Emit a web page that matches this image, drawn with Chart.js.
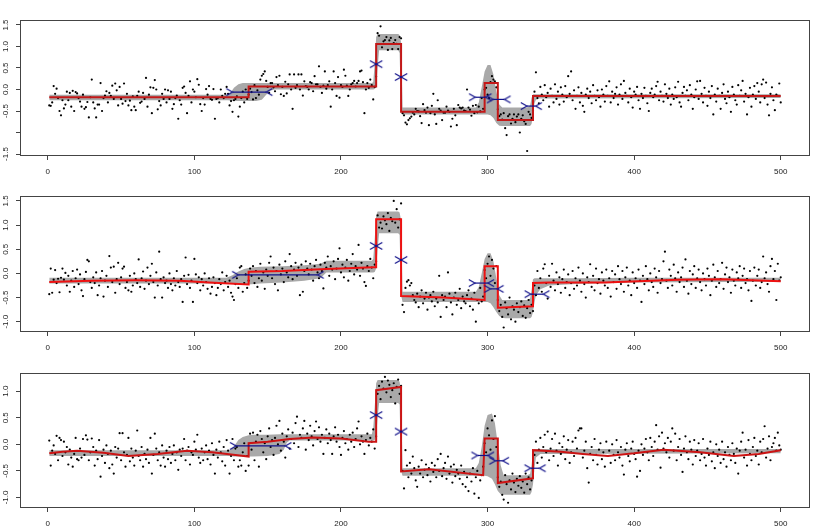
<!DOCTYPE html>
<html><head><meta charset="utf-8">
<script src="https://cdn.jsdelivr.net/npm/chart.js@4"></script>
<style>
html,body{margin:0;padding:0;background:#fff;}
body{width:830px;height:529px;overflow:hidden;position:relative;}
canvas{position:absolute;left:0;}
</style>
</head><body>
<canvas id="c1" width="830" height="185" style="top:0px"></canvas>
<canvas id="c2" width="830" height="175" style="top:185px"></canvas>
<canvas id="c3" width="830" height="169" style="top:360px"></canvas>
<script>
// ---------- axes ----------
const X_TICKS = [0, 100, 200, 300, 400, 500];
const X_LABELS = ['0', '100', '200', '300', '400', '500'];
const X_MIN = -18.96, X_MAX = 519.96;

const P1_Y_TICKS = [-1.5, -1, -0.5, 0, 0.5, 1, 1.5];
const P1_Y_LABELS = ['-1.5', '', '-0.5', '0.0', '0.5', '1.0', '1.5'];
const P2_Y_TICKS = [-1, -0.5, 0, 0.5, 1, 1.5];
const P2_Y_LABELS = ['-1.0', '-0.5', '0.0', '0.5', '1.0', '1.5'];
const P3_Y_TICKS = [-1, -0.5, 0, 0.5, 1];
const P3_Y_LABELS = ['-1.0', '-0.5', '0.0', '0.5', '1.0'];

// observation index where each dot segment starts
const SEG_STARTS = [1, 138, 225, 242, 298, 307, 332];

// ---------- panel 1 observations ----------
const P1_DOTS_A = [-0.37,-0.38,-0.30,0.08,-0.10,0.02,-0.20,-0.50,-0.60,-0.25,
-0.44,-0.35,-0.05,-0.25,-0.08,-0.40,-0.03,-0.50,-0.06,-0.09,
-0.20,-0.28,-0.40,-0.12,-0.45,-0.41,-0.29,-0.65,-0.18,0.23,
-0.30,-0.44,-0.65,-0.35,-0.35,0.15,-0.50,-0.20,-0.14,-0.04,
-0.30,-0.08,-0.15,0.09,-0.22,0.14,-0.02,-0.37,0.06,-0.22,
-0.33,0.14,-0.27,-0.10,-0.37,-0.26,-0.48,-0.16,-0.40,-0.48,
-0.15,-0.05,-0.31,-0.28,-0.08,-0.22,0.27,-0.40,-0.12,0.05,
-0.55,0.04,0.22,0.00,-0.46,-0.27,-0.37,-0.10,-0.22,0.00,
-0.30,-0.02,-0.22,-0.05,-0.45,-0.34,-0.20,-0.14,-0.68,-0.25,
-0.35,0.04,0.07,-0.08,-0.55,-0.15,0.19,-0.30,0.00,-0.05,
-0.18,0.24,0.11,-0.34,-0.50,-0.20,-0.35,0.01,-0.12,0.08,
-0.22,-0.24,0.01,-0.68,-0.22,-0.20,-0.30,0.00,-0.15,-0.20,
-0.10,0.06,-0.10,-0.37,-0.27,-0.52,-0.25,-0.22,-0.16,-0.63,
-0.40,-0.20,-0.05,-0.30,0.00,-0.22,-0.12];
const P1_DOTS_B = [0.02,-0.06,-0.23,0.10,-0.20,-0.02,-0.12,0.23,0.32,0.36,
0.42,0.20,0.06,-0.08,0.15,0.15,0.05,-0.04,0.29,0.10,
0.32,-0.11,0.06,-0.15,0.18,-0.09,0.12,0.35,0.00,-0.45,
0.35,0.04,0.10,0.35,0.00,0.35,-0.14,0.19,0.08,0.06,
0.00,0.17,0.15,-0.04,0.31,0.12,0.12,0.54,0.06,-0.08,
0.09,0.42,0.02,0.10,0.19,-0.40,0.00,0.42,0.15,-0.15,
0.29,-0.19,0.10,0.06,0.46,0.32,0.09,-0.15,0.00,0.12,
0.15,0.20,0.07,0.15,0.20,0.42,0.44,0.17,-0.55,0.00,
0.15,0.04,0.23,0.10,-0.23,0.06,0.30];
const P1_DOTS_C = [1.31,1.25,1.47,0.98,1.12,1.15,1.22,0.92,1.14,1.20,0.94,1.08,1.15,1.06,0.94,1.22,1.19];
const P1_DOTS_D = [-0.55,-0.60,-0.77,-0.81,-0.71,-0.67,-0.63,-0.54,-0.58,-0.45,
-0.50,-0.51,-0.62,-0.78,-0.34,-0.48,-0.54,-0.42,-0.83,-0.55,
-0.38,-0.10,-0.58,-0.80,-0.25,-0.45,-0.49,-0.71,-0.54,-0.54,
-0.40,-0.49,-0.52,-0.86,-0.68,-0.45,-0.60,-0.83,-0.36,-0.42,
-0.44,-0.42,-0.49,-0.50,0.00,-0.42,-0.47,-0.61,-0.38,-0.55,
-0.36,-0.53,-0.40,-0.51,-0.20,-0.45];
const P1_DOTS_E = [0.00,0.04,-0.12,-0.20,0.17,0.31,0.23,0.19,0.05];
const P1_DOTS_F = [-0.46,-0.62,-0.58,-0.70,-0.55,-0.90,-1.06,-0.62,-0.58,-0.79,
-0.68,-0.58,-0.76,-0.63,-0.58,-1.00,-0.68,-0.60,-0.74,-0.80,
-1.43,-0.52,-0.58,-0.66,-0.48];
const P1_DOTS_G = [-0.05,0.40,-0.20,-0.32,0.06,-0.12,-0.25,0.10,-0.18,-0.08,
-0.40,0.02,-0.15,-0.30,0.12,-0.22,-0.05,-0.35,0.05,-0.12,
-0.28,0.08,-0.18,0.31,-0.10,0.42,-0.25,-0.02,-0.45,-0.15,
0.05,-0.30,-0.08,-0.38,-0.52,-0.12,0.02,-0.20,-0.05,-0.32,
0.10,-0.15,-0.25,-0.02,-0.18,-0.40,0.00,-0.12,-0.28,0.08,
-0.15,0.19,-0.30,-0.05,-0.20,-0.10,0.05,-0.35,-0.12,0.12,
-0.22,0.20,-0.08,-0.15,-0.30,0.02,-0.18,-0.42,-0.05,-0.12,
0.06,-0.25,-0.45,-0.10,-0.20,0.04,-0.15,-0.32,-0.50,-0.08,
0.02,-0.18,-0.12,0.08,0.18,-0.25,-0.05,-0.15,-0.28,0.12,
-0.10,-0.20,0.02,-0.35,-0.12,-0.22,0.05,-0.18,0.18,-0.30,
-0.40,-0.08,0.06,-0.15,-0.02,-0.25,0.10,-0.12,-0.45,-0.18,
0.00,0.19,-0.22,0.20,-0.10,-0.30,0.04,-0.15,-0.38,-0.05,
-0.20,0.08,-0.58,-0.12,-0.28,0.02,-0.15,-0.45,-0.08,0.12,
-0.22,-0.32,-0.05,-0.18,-0.52,0.06,-0.12,-0.25,-0.35,0.10,
-0.15,-0.02,0.20,-0.28,-0.10,-0.58,-0.18,0.04,-0.40,-0.12,
0.08,-0.22,0.15,-0.05,-0.30,0.12,0.23,-0.20,0.16,-0.35,
-0.60,-0.10,0.05,-0.25,-0.48,-0.12,-0.15,0.14,-0.30];

// ---------- panel 2 observations ----------
const P2_DOTS_A = [-0.43,0.10,-0.40,-0.13,0.07,-0.20,-0.11,-0.39,-0.09,0.10,
-0.13,0.01,-0.25,-0.05,-0.38,-0.15,0.05,-0.28,-0.10,0.08,
-0.22,-0.02,-0.35,-0.47,-0.12,0.03,0.28,0.25,-0.18,-0.30,
-0.08,-0.20,0.02,-0.45,-0.25,-0.10,0.05,-0.48,-0.15,-0.05,
-0.28,0.36,0.12,-0.18,0.14,-0.40,-0.12,0.22,-0.22,-0.08,
0.10,0.14,-0.30,-0.18,-0.35,-0.05,-0.38,-0.25,0.00,-0.12,
-0.20,0.29,-0.28,-0.10,0.04,-0.32,-0.15,0.12,-0.22,-0.05,
0.20,-0.18,-0.50,0.02,-0.25,0.45,-0.12,-0.50,-0.08,-0.20,
-0.15,-0.30,0.00,-0.22,-0.35,-0.10,-0.25,0.05,-0.18,-0.28,
-0.12,-0.59,-0.05,0.33,-0.22,-0.03,-0.30,-0.15,-0.59,0.30,
-0.02,-0.20,-0.08,-0.35,-0.12,-0.25,0.00,-0.18,-0.32,-0.10,
-0.42,-0.28,-0.08,-0.20,-0.45,-0.30,-0.12,-0.22,0.02,-0.35,
-0.18,-0.05,-0.28,-0.15,-0.40,-0.48,-0.55,-0.22,-0.10,-0.30,
0.12,0.15,-0.38,-0.20,-0.02,-0.30,-0.15];
const P2_DOTS_B = [0.10,-0.05,0.15,-0.20,0.05,-0.28,-0.10,0.20,-0.15,0.02,
-0.32,0.08,-0.05,0.22,0.35,-0.10,0.12,-0.22,0.05,-0.35,
0.18,-0.02,0.10,-0.18,0.25,0.02,-0.08,0.40,0.15,-0.12,
0.08,0.22,-0.05,0.12,-0.45,0.18,-0.38,0.05,0.25,0.10,
-0.02,0.20,0.08,-0.15,0.15,0.28,0.02,-0.10,0.18,0.05,
-0.31,0.22,0.12,0.35,-0.05,0.15,0.08,0.25,-0.12,0.10,
0.30,0.52,0.02,0.18,-0.08,0.12,0.28,-0.15,0.05,0.20,
0.40,-0.02,0.15,0.08,0.59,-0.05,0.22,0.10,-0.18,-0.26,
0.15,0.05,0.30,0.12,-0.10,0.18,0.25];
const P2_DOTS_C = [1.20,0.95,1.05,0.93,1.18,1.10,1.02,1.25,0.88,1.15,1.08,1.50,1.05,1.33,0.95,1.12,1.45];
const P2_DOTS_D = [-0.65,-0.80,-0.30,-0.17,-0.14,-0.25,-0.20,-0.45,-0.55,-0.60,
-0.42,-0.70,-0.48,-0.35,-0.62,-0.52,-0.40,-0.75,-0.50,-0.45,
-0.58,-0.38,-0.68,-0.52,-0.60,-0.05,-0.90,-0.45,-0.55,-0.48,
-0.70,0.02,-0.42,-0.60,-0.85,-0.50,-0.40,-0.65,-0.55,-0.32,
-0.72,-0.48,-0.58,-0.62,-0.45,-0.35,-0.68,-0.52,-0.75,-0.40,
-1.00,-0.55,-0.62,-0.30,-0.58,-0.48];
const P2_DOTS_E = [0.07,-0.10,0.20,0.35,-0.05,0.28,0.10,-0.20,0.15];
const P2_DOTS_F = [-0.55,-0.78,-0.65,-0.90,-1.12,-0.60,-0.72,-0.85,-0.50,-0.95,
-0.68,-0.75,-1.00,-0.62,-0.80,-0.70,-0.58,-0.88,-0.66,-0.92,
-0.72,-0.55,-0.82,-0.65,-0.78];
const P2_DOTS_G = [-0.25,-0.45,0.05,-0.30,-0.10,-0.38,0.10,0.19,-0.20,-0.52,
-0.05,-0.28,0.20,-0.15,-0.35,0.02,-0.22,-0.08,-0.40,
-0.12,0.08,-0.30,-0.18,-0.02,-0.45,-0.20,0.05,-0.32,-0.10,
-0.25,0.12,-0.15,-0.38,0.00,-0.22,-0.50,-0.08,-0.18,0.19,
-0.28,-0.05,-0.35,0.10,-0.20,-0.12,-0.42,0.02,-0.15,-0.25,
0.08,-0.30,-0.10,-0.48,0.05,-0.18,-0.02,-0.32,0.15,-0.12,
-0.22,0.05,-0.38,-0.08,0.12,-0.25,-0.15,-0.45,0.02,-0.20,
-0.10,-0.30,0.08,-0.15,-0.59,-0.05,-0.22,0.15,-0.12,-0.35,
0.00,-0.18,-0.28,0.10,-0.08,-0.40,0.05,-0.20,-0.12,0.25,
0.45,-0.15,-0.30,0.08,-0.05,-0.25,0.18,-0.10,-0.38,0.02,
-0.18,-0.08,0.12,-0.28,0.29,-0.15,-0.42,0.05,-0.22,-0.02,
0.15,-0.30,-0.10,0.08,-0.18,-0.35,0.00,-0.12,-0.25,0.10,
-0.05,-0.45,-0.15,0.18,-0.08,-0.28,0.05,-0.20,-0.12,0.22,
-0.32,-0.02,0.12,-0.18,-0.08,-0.40,0.08,-0.15,-0.25,0.02,
-0.10,0.15,-0.30,-0.05,0.10,-0.20,-0.12,-0.35,0.05,-0.57,
-0.15,0.12,-0.25,-0.05,0.08,-0.30,-0.18,0.35,-0.10,0.02,
-0.22,-0.38,0.15,0.30,-0.12,0.05,-0.55,0.20,-0.15,-0.08];

// ---------- panel 3 observations ----------
const P3_DOTS_A = [0.07,-0.40,-0.12,-0.02,-0.18,0.16,-0.30,0.12,0.08,-0.22,
0.05,-0.15,-0.05,-0.38,-0.10,-0.25,-0.42,-0.18,0.12,-0.28,
-0.30,-0.08,-0.25,0.10,-0.20,0.17,0.09,-0.30,-0.15,0.11,
-0.05,-0.40,-0.12,-0.28,0.08,-0.61,-0.22,-0.10,-0.35,-0.02,
-0.18,-0.45,-0.12,-0.38,-0.55,-0.05,-0.25,-0.08,0.21,-0.30,
0.21,-0.15,-0.42,-0.20,0.12,-0.32,-0.08,-0.25,-0.40,-0.12,
0.26,-0.22,-0.30,-0.05,-0.42,-0.18,-0.28,-0.10,-0.35,0.12,
-0.55,-0.20,0.20,-0.08,-0.30,-0.15,-0.40,-0.02,-0.25,-0.42,
-0.12,-0.28,-0.05,-0.35,-0.18,-0.02,-0.30,-0.15,-0.48,-0.10,
-0.22,-0.08,0.10,-0.30,-0.12,-0.05,-0.38,-0.15,-0.20,0.05,
-0.10,0.18,-0.25,-0.35,-0.08,-0.30,-0.15,-0.02,-0.28,-0.12,
-0.38,0.02,-0.20,-0.55,-0.10,-0.25,0.05,-0.15,-0.32,-0.05,
-0.40,0.08,-0.12,-0.55,-0.22,0.10,-0.30,-0.08,-0.05,-0.42,
-0.30,-0.40,-0.15,0.02,-0.50,-0.22,-0.40];
const P3_DOTS_B = [0.20,-0.10,0.22,-0.30,0.05,0.18,-0.42,0.25,0.10,-0.15,
0.02,-0.28,0.15,0.30,-0.05,0.08,-0.20,0.12,0.35,0.00,
0.44,-0.12,0.20,0.05,-0.25,0.15,0.28,-0.08,0.10,0.22,
0.02,0.40,0.52,-0.05,0.18,0.12,0.30,0.44,-0.10,0.20,
0.08,0.35,0.15,-0.02,0.25,0.43,0.10,0.32,0.05,0.18,
-0.18,0.12,0.28,0.02,0.20,0.08,-0.18,0.15,0.32,0.05,
0.18,-0.05,-0.20,0.12,0.25,0.02,0.10,-0.10,0.18,0.05,
0.22,-0.05,0.10,0.30,0.43,0.00,0.15,0.05,-0.18,0.08,
0.20,-0.02,0.12,0.05,0.28,-0.08,0.15];
const P3_DOTS_C = [0.95,1.10,0.85,1.18,1.05,1.27,0.98,1.20,1.12,0.89,1.02,1.15,0.77,1.08,1.22,0.95,1.10];
const P3_DOTS_D = [-0.50,-0.83,-0.11,-0.40,-0.62,-0.35,-0.55,-0.23,-0.45,-0.68,
-0.80,-0.42,-0.55,-0.30,-0.62,-0.48,-0.38,-0.58,-0.45,-0.70,
-0.35,-0.52,-0.40,-0.62,-0.28,-0.50,-0.18,-0.60,-0.45,-0.35,
-0.65,-0.23,-0.55,-0.42,-0.72,-0.38,-0.60,-0.48,-0.55,-0.65,
-0.40,-0.75,-0.52,-0.80,-0.62,-0.88,-0.55,-0.70,-0.45,-0.93,
-0.62,-0.50,-1.01,-0.68,-0.58,-0.42];
const P3_DOTS_E = [0.02,-0.15,0.30,0.17,-0.10,0.45,0.10,0.53,-0.05];
const P3_DOTS_F = [-0.62,-0.80,-0.70,-0.95,-1.04,-0.58,-0.75,-1.10,-0.68,-0.85,
-0.55,-0.72,-0.90,-0.65,-0.78,-0.60,-0.82,-0.70,-0.91,-0.55,
-0.75,-0.62,-0.85,-0.68,-0.50];
const P3_DOTS_G = [-0.20,0.05,-0.35,-0.10,0.12,-0.25,-0.05,0.18,-0.15,0.24,
-0.30,-0.08,0.10,-0.22,0.20,-0.12,-0.40,0.02,-0.18,
-0.05,0.15,-0.28,-0.10,0.08,-0.35,-0.15,0.05,-0.22,0.12,
-0.08,0.26,0.30,0.30,-0.25,-0.12,0.05,-0.45,-0.72,-0.18,
-0.05,-0.30,0.10,-0.20,-0.38,-0.10,0.02,-0.28,-0.15,-0.42,
0.05,-0.22,-0.12,-0.35,0.00,-0.20,-0.30,0.08,-0.15,-0.25,
-0.05,-0.40,-0.57,-0.10,0.02,-0.22,-0.32,-0.08,0.05,-0.18,
-0.28,-0.61,-0.12,-0.50,0.00,-0.20,-0.08,0.10,-0.15,-0.30,
0.12,-0.05,-0.22,0.05,0.36,-0.10,0.15,-0.44,0.22,-0.08,
0.02,-0.15,0.12,-0.25,0.05,0.30,-0.12,0.20,-0.30,-0.05,
0.10,-0.20,-0.52,-0.08,0.15,-0.15,-0.28,0.05,-0.10,-0.38,
0.08,-0.22,-0.12,0.02,-0.30,-0.18,0.10,-0.25,-0.40,-0.08,
-0.20,0.05,-0.32,-0.15,-0.45,0.00,-0.22,-0.10,-0.35,0.05,
-0.28,-0.15,-0.42,-0.05,-0.20,-0.30,0.02,-0.18,-0.35,-0.08,
-0.55,-0.12,0.05,0.22,-0.25,-0.10,-0.40,0.08,-0.18,-0.30,
-0.05,0.12,-0.22,-0.12,-0.38,0.05,-0.15,0.10,0.34,-0.25,
-0.08,0.15,-0.30,-0.05,0.02,0.12,-0.12,0.22,-0.02,-0.10];

// ---------- fitted means (red) ----------
const P1_FIT_X = [1,137,137,224,224,241,241,298,298,307,307,331,331,500];
const P1_FIT_Y = [-0.18,-0.18,0.07,0.07,1.06,1.06,-0.52,-0.52,0.15,0.15,-0.71,-0.71,-0.15,-0.15];
const P2_FIT_X = [1,30,60,90,110,137,137,160,190,222,224,224,241,241,270,298,298,307,307,331,331,342,380,430,460,500];
const P2_FIT_Y = [-0.18,-0.15,-0.14,-0.15,-0.19,-0.23,0.035,0.05,0.09,0.13,0.13,1.12,1.12,-0.47,-0.5,-0.55,0.15,0.15,-0.71,-0.68,-0.2,-0.19,-0.19,-0.13,-0.12,-0.16];
const P3_FIT_X = [1,10,20,38,55,75,95,112,128,137,137,150,165,181,200,219,224,224,241,241,260,297,298,307,307,331,331,350,365,382,400,420,445,468,485,500];
const P3_FIT_Y = [-0.17,-0.14,-0.12,-0.16,-0.22,-0.18,-0.12,-0.15,-0.2,-0.23,0.02,0.05,0.1,0.13,0.11,0.05,0.05,1.02,1.08,-0.51,-0.47,-0.58,0.11,0.11,-0.73,-0.64,-0.11,-0.14,-0.18,-0.22,-0.17,-0.1,-0.15,-0.22,-0.18,-0.11];

// ---------- confidence bands (gray) ----------
const P1_BAND_X = [1,123,125,127,130,133,137,142,146,149,152,155,160,221,222,223,224,225,226,239,240,241,242,292,294,296,298,300,302,304,306,308,310,312,327,329,330,331,332,333,335,500];
const P1_BAND_HI = [-0.12,-0.12,-0.06,0.04,0.12,0.15,0.15,0.15,0.15,0.15,0.15,0.15,0.15,0.15,0.17,0.6,1.22,1.29,1.29,1.29,1.27,1.1,-0.42,-0.42,-0.3,0.05,0.42,0.57,0.57,0.35,-0.05,-0.35,-0.42,-0.42,-0.42,-0.38,-0.2,-0.11,-0.11,-0.11,-0.11,-0.11];
const P1_BAND_LO = [-0.25,-0.25,-0.26,-0.27,-0.27,-0.27,-0.27,-0.27,-0.24,-0.12,-0.02,0.0,0.0,0.0,0.0,0.01,0.05,0.5,0.91,0.91,0.85,-0.5,-0.58,-0.58,-0.58,-0.58,-0.58,-0.58,-0.6,-0.66,-0.78,-0.84,-0.85,-0.85,-0.85,-0.85,-0.8,-0.6,-0.32,-0.24,-0.21,-0.2];
const P2_BAND_X = [1,122,126,130,134,137,141,145,160,175,186,190,221,222,223,224,225,226,239,240,241,242,292,294,296,298,300,302,304,306,308,310,312,327,329,330,331,332,333,336,342,360,400,500];
const P2_BAND_HI = [-0.09,-0.09,-0.04,0.04,0.09,0.11,0.13,0.14,0.15,0.17,0.2,0.26,0.26,0.3,0.7,1.2,1.28,1.28,1.28,1.26,1.1,-0.38,-0.38,-0.28,0.0,0.3,0.42,0.42,0.25,-0.1,-0.45,-0.55,-0.55,-0.55,-0.52,-0.35,-0.12,-0.1,-0.1,-0.1,-0.1,-0.1,-0.09,-0.09];
const P2_BAND_LO = [-0.21,-0.21,-0.22,-0.23,-0.23,-0.23,-0.22,-0.21,-0.19,-0.15,-0.1,0.02,0.02,0.02,0.03,0.1,0.5,0.83,0.83,0.8,-0.45,-0.59,-0.59,-0.59,-0.59,-0.59,-0.59,-0.62,-0.7,-0.8,-0.88,-0.92,-0.93,-0.93,-0.93,-0.9,-0.8,-0.6,-0.45,-0.33,-0.25,-0.22,-0.19,-0.17];
const P3_BAND_X = [1,124,127,130,133,137,140,150,158,161,163,165,221,222,223,224,225,226,239,240,241,242,292,294,296,298,300,303,305,307,309,311,327,329,330,331,332,333,336,500];
const P3_BAND_HI = [-0.11,-0.11,-0.04,0.08,0.14,0.17,0.18,0.18,0.19,0.19,0.19,0.19,0.19,0.3,0.7,1.15,1.21,1.21,1.21,1.18,1.0,-0.45,-0.45,-0.35,-0.05,0.35,0.55,0.58,0.4,0.0,-0.4,-0.58,-0.58,-0.56,-0.4,-0.12,-0.09,-0.09,-0.09,-0.09];
const P3_BAND_LO = [-0.22,-0.22,-0.23,-0.23,-0.23,-0.23,-0.23,-0.22,-0.18,-0.1,0.03,0.07,0.07,0.07,0.08,0.15,0.5,0.78,0.78,0.75,-0.5,-0.59,-0.59,-0.59,-0.59,-0.59,-0.6,-0.65,-0.75,-0.88,-0.94,-0.95,-0.95,-0.95,-0.9,-0.75,-0.45,-0.25,-0.18,-0.17];

// ---------- change-point intervals (blue): [low, high, level] ----------
const P1_CP = [[126,149,-0.06],[224,224,0.59],[241,241,0.29],[291.6,298.5,-0.18],[303.8,311.5,-0.23],[326.9,332.8,-0.385]];
const P2_CP = [[130,184,-0.03],[224,224,0.57],[241,241,0.28],[291.4,300.2,-0.2],[302,306.7,-0.32],[329.5,338,-0.43]];
const P3_CP = [[128.5,162,-0.03],[224,224,0.55],[241,241,0.24],[293.2,300.2,-0.21],[305.4,310.4,-0.31],[329.4,335.4,-0.45]];

// ---------- styling ----------
const FONT = "'Liberation Sans', Arial, Helvetica, sans-serif";
const TXT = '#222';
const AX = '#444';
const BAND = '#a9a9a9';
const BLUE = '#10108a';

function head(dir) {
  const c = document.createElement('canvas');
  c.width = 16; c.height = 10;
  const g = c.getContext('2d');
  g.strokeStyle = BLUE; g.lineWidth = 1.2;
  g.beginPath();
  g.moveTo(8 - dir * 6.2, 5 - 3.6);
  g.lineTo(8, 5);
  g.lineTo(8 - dir * 6.2, 5 + 3.6);
  g.stroke();
  return c;
}
const HEAD_L = head(1);   // '>' at the low end
const HEAD_R = head(-1);  // '<' at the high end

const boxPlugin = {
  id: 'rbox',
  afterDraw(chart) {
    const a = chart.chartArea, g = chart.ctx;
    g.save();
    g.strokeStyle = AX; g.lineWidth = 1;
    g.strokeRect(Math.round(a.left) + 0.5, Math.round(a.top) + 0.5,
                 Math.round(a.right - a.left) - 1, Math.round(a.bottom - a.top) - 1);
    g.restore();
  }
};

function pts(xs, ys) { return xs.map((x, i) => ({ x: x, y: ys[i] })); }
function dots(segs) {
  const out = [];
  segs.forEach((s, k) => s.forEach((v, j) => out.push({ x: SEG_STARTS[k] + j, y: v })));
  return out;
}

function panel(id, p) {
  const ds = [
    { data: pts(p.bx, p.bhi), borderWidth: 0, pointRadius: 0, fill: false, order: 10 },
    { data: pts(p.bx, p.blo), borderWidth: 0, pointRadius: 0, fill: 0, backgroundColor: BAND, order: 9 },
    { data: dots(p.dots), showLine: false, pointRadius: 1.1, pointBorderWidth: 0,
      pointBackgroundColor: '#000', order: 5 },
    { data: pts(p.fx, p.fy), borderColor: p.red, borderWidth: 2, pointRadius: 0, fill: false, order: 3 }
  ];
  p.cp.forEach(c => ds.push({
    data: [{ x: c[0], y: c[2] }, { x: c[1], y: c[2] }],
    borderColor: BLUE, borderWidth: 1.2, pointRadius: 3, pointStyle: [HEAD_L, HEAD_R],
    fill: false, order: 1
  }));
  const grid = { drawOnChartArea: false, drawTicks: true, tickLength: 4, color: AX, lineWidth: 1 };
  new Chart(document.getElementById(id), {
    type: 'line',
    data: { datasets: ds },
    options: {
      responsive: false, animation: false, devicePixelRatio: 1, events: [],
      layout: { padding: { top: p.top, left: 0, right: 20, bottom: 0 } },
      plugins: { legend: { display: false }, tooltip: { enabled: false } },
      scales: {
        x: {
          type: 'linear', min: X_MIN, max: X_MAX,
          afterBuildTicks: s => { s.ticks = X_TICKS.map(v => ({ value: v })); },
          afterFit: s => { s.height = p.xh; },
          ticks: { autoSkip: false, minRotation: 0, maxRotation: 0, padding: 7, color: TXT,
                   font: { family: FONT, size: 8 }, callback: (v, i) => X_LABELS[i] },
          grid: grid, border: { display: false }
        },
        y: {
          type: 'linear', min: p.ymin, max: p.ymax,
          afterBuildTicks: s => { s.ticks = p.yt.map(v => ({ value: v })); },
          afterFit: s => { s.width = 20; },
          ticks: { autoSkip: false, minRotation: 90, maxRotation: 90, crossAlign: 'center', padding: 3,
                   color: TXT, font: { family: FONT, size: 8 }, callback: (v, i) => p.yl[i] },
          grid: grid, border: { display: false }
        }
      }
    },
    plugins: [boxPlugin]
  });
}

panel('c1', { top: 20, xh: 29, ymin: -1.546, ymax: 1.616, yt: P1_Y_TICKS, yl: P1_Y_LABELS,
  dots: [P1_DOTS_A, P1_DOTS_B, P1_DOTS_C, P1_DOTS_D, P1_DOTS_E, P1_DOTS_F, P1_DOTS_G],
  fx: P1_FIT_X, fy: P1_FIT_Y, bx: P1_BAND_X, bhi: P1_BAND_HI, blo: P1_BAND_LO, cp: P1_CP, red: '#c41818' });
panel('c2', { top: 11, xh: 28, ymin: -1.213, ymax: 1.603, yt: P2_Y_TICKS, yl: P2_Y_LABELS,
  dots: [P2_DOTS_A, P2_DOTS_B, P2_DOTS_C, P2_DOTS_D, P2_DOTS_E, P2_DOTS_F, P2_DOTS_G],
  fx: P2_FIT_X, fy: P2_FIT_Y, bx: P2_BAND_X, bhi: P2_BAND_HI, blo: P2_BAND_LO, cp: P2_CP, red: '#ee1111' });
panel('c3', { top: 13, xh: 21, ymin: -1.199, ymax: 1.343, yt: P3_Y_TICKS, yl: P3_Y_LABELS,
  dots: [P3_DOTS_A, P3_DOTS_B, P3_DOTS_C, P3_DOTS_D, P3_DOTS_E, P3_DOTS_F, P3_DOTS_G],
  fx: P3_FIT_X, fy: P3_FIT_Y, bx: P3_BAND_X, bhi: P3_BAND_HI, blo: P3_BAND_LO, cp: P3_CP, red: '#cc1414' });
</script>
</body></html>
